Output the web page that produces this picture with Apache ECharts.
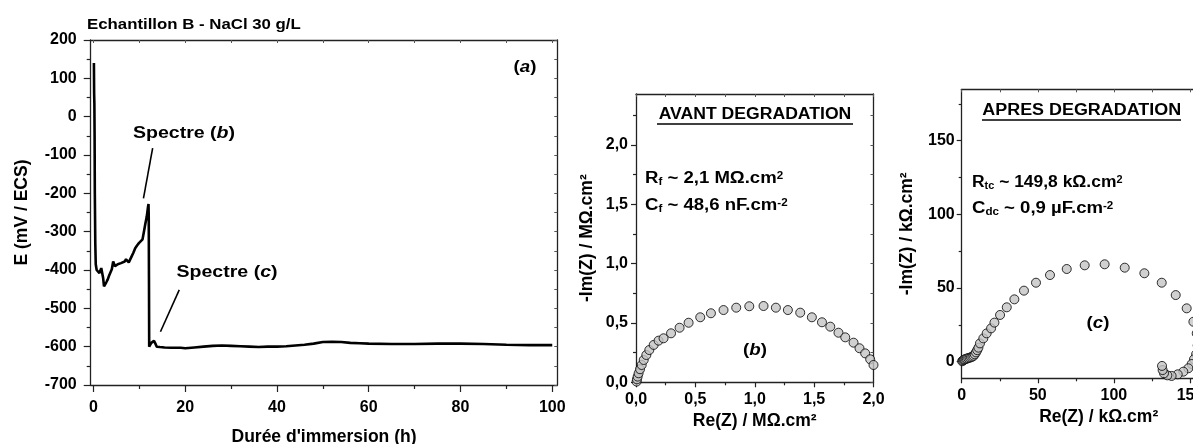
<!DOCTYPE html>
<html><head><meta charset="utf-8">
<script src="https://cdn.jsdelivr.net/npm/echarts@6/dist/echarts.min.js"></script>
<style>html,body{margin:0;padding:0;background:#fff}#c{width:1193px;height:444px}</style>
</head><body><div id="c"></div>
<script>
// ---------- DATA ----------
const timeH = [0.1,0.15,0.2,0.22,0.25,0.3,0.4,0.5,0.7,0.9,1.1,1.3,1.5,1.7,1.9,2.1,2.3,2.5,2.8,3.1,3.4,3.7,4.0,4.3,4.5,4.7,5.0,5.3,5.6,6.0,6.4,6.8,7.1,7.4,7.7,8.0,8.3,8.7,9.1,9.5,9.9,10.3,10.7,11.0,11.3,11.6,11.9,12.0,12.05,12.1,12.15,12.3,12.6,12.9,13.2,13.5,13.8,14.5,15.5,17,19,20,22,24,26,28,30,32,34,36,38,40,42,44,46,48,50,52,54,56,58,60,65,70,75,80,85,90,95,100];
const potentialMV = [140,60,35,30,-50,-200,-330,-385,-400,-405,-398,-408,-403,-395,-392,-420,-443,-440,-432,-425,-415,-410,-398,-378,-373,-390,-392,-385,-387,-382,-380,-378,-372,-370,-380,-375,-365,-355,-343,-336,-330,-327,-320,-300,-280,-262,-235,-228,-260,-420,-600,-598,-590,-585,-585,-592,-600,-601,-602,-603,-603,-604,-602,-600,-598,-597,-598,-599,-600,-601,-600,-600,-599,-597,-595,-592,-588,-587,-588,-590,-591,-592,-593,-593,-592,-592,-593,-595,-596,-596];

const reB = [0.005,0.008,0.014,0.022,0.034,0.048,0.065,0.087,0.112,0.149,0.19,0.232,0.295,0.367,0.443,0.541,0.631,0.737,0.844,0.954,1.074,1.178,1.279,1.383,1.481,1.566,1.636,1.705,1.762,1.832,1.882,1.93,1.972,2.0];
const imB = [0.006,0.025,0.048,0.076,0.11,0.146,0.188,0.23,0.272,0.315,0.351,0.371,0.413,0.46,0.502,0.548,0.582,0.609,0.629,0.641,0.643,0.629,0.609,0.587,0.548,0.506,0.469,0.418,0.379,0.334,0.287,0.244,0.194,0.146];

const reC = [0.3,0.8,1.3,1.9,2.6,3.4,4.3,5.2,6.1,7.0,7.8,8.6,9.4,10.2,11.0,12.0,14.2,16.4,19.3,21.5,25.2,29.6,34.6,40.9,48.8,58.0,69.0,80.8,93.9,107.1,120.0,131.4,140.6,147.8,152.2,154.4,155.0,154.0,152.6,151.1,148.9,145.6,141.9,137.9,135.1,132.9,132.0,131.6];
const imC = [0.3,0.8,1.2,1.5,1.8,2.1,2.4,2.7,3.0,3.4,4.0,5.0,6.3,7.8,9.5,12.4,15.8,19.2,22.6,26.5,31.7,36.9,42.3,48.2,53.6,58.8,62.9,65.4,66.1,63.8,60.0,53.6,45.2,36.2,27.1,19.2,11.0,5.0,1.6,-1.6,-4.5,-6.8,-8.6,-9.7,-9.3,-7.9,-5.7,-2.9];

const ticksAx = [0,20,40,60,80,100];
const minorAx = [10,30,50,70,90];
const ticksAy = [-700,-600,-500,-400,-300,-200,-100,0,100,200];
const minorAy = [-650,-550,-450,-350,-250,-150,-50,50,150];
const ticksB = [0,0.5,1.0,1.5,2.0];
const minorBx = [0.25,0.75,1.25,1.75];
const minorBy = [0.25,0.75,1.25,1.75,2.25];
const ticksCx = [0,50,100,150];
const minorCx = [25,75,125,175];
const ticksCy = [0,50,100,150];
const minorCy = [25,75,125,175];

// ---------- CHART ----------
const FONT = 'Liberation Sans, Arial, sans-serif';
const frameColor = '#222';
const comma = v => v.toFixed(1).replace('.', ',');

const grids = [
  {left: 90.7, top: 40, width: 466.6, height: 345, outerBoundsMode:'none', containLabel:false},
  {left: 636, top: 94, width: 237.5, height: 288.3, outerBoundsMode:'none', containLabel:false},
  {left: 961.7, top: 89.3, width: 274, height: 289, outerBoundsMode:'none', containLabel:false}
];
const ranges = [
  {x:[-0.6,101.1], y:[-700,200]},
  {x:[0,2.0], y:[0,2.43]},
  {x:[0,180], y:[-11.3,184.9]}
];

const xAxes = [], yAxes = [];
function addAxes(gi, cfg) {
  const r = ranges[gi];
  const base = {gridIndex: gi, type: 'value', splitLine:{show:false}, scale:false};
  const lbl = (vals, fmt, margin) => ({show:true, customValues: vals, formatter: fmt, margin: margin,
    color:'#000', fontFamily: FONT, fontWeight:'bold', fontSize: cfg.fs});
  xAxes.push(Object.assign({}, base, {min:r.x[0], max:r.x[1], position:'bottom',
    axisLine:{show:true, onZero:false, lineStyle:{color:frameColor, width:1.3}},
    axisTick:{show:true, inside:false, length:cfg.tickLen, customValues: cfg.xMaj, lineStyle:{color:frameColor, width:1.2}},
    axisLabel: lbl(cfg.xMaj, cfg.xFmt, cfg.xMargin),
    name: cfg.xName, nameLocation:'middle', nameGap: cfg.xGap,
    nameTextStyle:{fontFamily:FONT, fontWeight:'bold', fontSize:cfg.nameFs, color:'#000'}}));
  xAxes.push(Object.assign({}, base, {min:r.x[0], max:r.x[1], position:'bottom',
    axisLine:{show:false, onZero:false},
    axisTick:{show:true, inside:false, length:cfg.minLen, customValues: cfg.xMin, lineStyle:{color:frameColor, width:1.2}},
    axisLabel:{show:false}}));
  xAxes.push(Object.assign({}, base, {min:r.x[0], max:r.x[1], position:'top',
    axisLine:{show:true, onZero:false, lineStyle:{color:frameColor, width:1.3}},
    axisTick:{show:true, inside:true, length:3, customValues: cfg.xMaj.concat(cfg.xMin), lineStyle:{color:'#555', width:1}},
    axisLabel:{show:false}}));
  yAxes.push(Object.assign({}, base, {min:r.y[0], max:r.y[1], position:'left',
    axisLine:{show:true, onZero:false, lineStyle:{color:frameColor, width:1.3}},
    axisTick:{show:true, inside:false, length:cfg.tickLen, customValues: cfg.yMaj, lineStyle:{color:frameColor, width:1.2}},
    axisLabel: lbl(cfg.yMaj, cfg.yFmt, cfg.yMargin),
    name: cfg.yName, nameLocation:'middle', nameGap: cfg.yGap, nameRotate: 90,
    nameTextStyle:{fontFamily:FONT, fontWeight:'bold', fontSize:cfg.nameFs, color:'#000'}}));
  yAxes.push(Object.assign({}, base, {min:r.y[0], max:r.y[1], position:'left',
    axisLine:{show:false, onZero:false},
    axisTick:{show:true, inside:false, length:cfg.minLen, customValues: cfg.yMin, lineStyle:{color:frameColor, width:1.2}},
    axisLabel:{show:false}}));
  yAxes.push(Object.assign({}, base, {min:r.y[0], max:r.y[1], position:'right',
    axisLine:{show:true, onZero:false, lineStyle:{color:frameColor, width:1.3}},
    axisTick:{show:true, inside:true, length:3, customValues: cfg.yMaj.concat(cfg.yMin), lineStyle:{color:'#555', width:1}},
    axisLabel:{show:false}}));
}

addAxes(0, {xMaj:ticksAx, xMin:minorAx, yMaj:ticksAy, yMin:minorAy, xFmt: v => String(v), yFmt: v => String(v),
  fs:16, nameFs:17.5, tickLen:7, minLen:4, xMargin:15, yMargin:14,
  xName:"Durée d'immersion (h)", xGap:43, yName:'E (mV / ECS)', yGap:60});
addAxes(1, {xMaj:ticksB, xMin:minorBx, yMaj:ticksB, yMin:minorBy, xFmt: comma, yFmt: comma,
  fs:16, nameFs:17.5, tickLen:5, minLen:3, xMargin:9, yMargin:8,
  xName:'Re(Z) / MΩ.cm²', xGap:30, yName:'-Im(Z) / MΩ.cm²', yGap:40});
addAxes(2, {xMaj:ticksCx, xMin:minorCx, yMaj:ticksCy, yMin:minorCy, xFmt: v => String(v), yFmt: v => String(v),
  fs:16, nameFs:17.5, tickLen:5, minLen:3, xMargin:9, yMargin:7,
  xName:'Re(Z) / kΩ.cm²', xGap:30, yName:'-Im(Z) / kΩ.cm²', yGap:46});

const seriesA = timeH.map((t, i) => [t, potentialMV[i]]);
const seriesB = reB.map((x, i) => [x, imB[i]]);
const seriesC = reC.map((x, i) => [x, imC[i]]);

const rich = {
  m:{fontFamily:FONT, fontWeight:'bold', fontSize:16, color:'#000'},
  i:{fontFamily:FONT, fontWeight:'bold', fontStyle:'italic', fontSize:16, color:'#000'},
  sub:{fontFamily:FONT, fontWeight:'bold', fontSize:10, color:'#000', verticalAlign:'bottom', lineHeight:10},
  sup:{fontFamily:FONT, fontWeight:'bold', fontSize:10, color:'#000', verticalAlign:'top', lineHeight:10}
};
function txt(x, y, text, align, fs, sx) {
  const r = JSON.parse(JSON.stringify(rich));
  if (fs) { r.m.fontSize = fs; r.i.fontSize = fs; }
  return {type:'text', x:x, y:y, z:100, scaleX: sx || 1.12,
    style:{text:text, rich:r, align:align||'left', verticalAlign:'middle'}};
}
function plain(x, y, text, fs, align, sx) {
  return {type:'text', x:x, y:y, z:100, scaleX: sx || 1.12,
    style:{text:text, fontFamily:FONT, fontWeight:'bold', fontSize:fs, fill:'#000', align:align, verticalAlign:'middle'}};
}

const option = {
  animation:false,
  backgroundColor:'#fff',
  grid: grids,
  xAxis: xAxes,
  yAxis: yAxes,
  series: [
    {type:'line', xAxisIndex:0, yAxisIndex:0, data:seriesA, showSymbol:false, symbol:'none',
     lineStyle:{color:'#000', width:2.6}, clip:true,
     markLine:{silent:true, symbol:['none','arrow'], symbolSize:[0,10], animation:false,
       lineStyle:{color:'#000', width:1.6, type:'solid'}, label:{show:false},
       data:[[{coord:[12.9,-82]},{coord:[10.9,-213]}],[{coord:[18.7,-452]},{coord:[14.6,-561]}]]}},
    {type:'scatter', xAxisIndex:3, yAxisIndex:3, data:seriesB, symbol:'circle', symbolSize:9,
     itemStyle:{color:'#c4c4c4', borderColor:'#000', borderWidth:1}, clip:true},
    {type:'scatter', xAxisIndex:6, yAxisIndex:6, data:seriesC, symbol:'circle', symbolSize:9,
     itemStyle:{color:'#c4c4c4', borderColor:'#000', borderWidth:1}, clip:true}
  ],
  graphic: [
    plain(87, 25, 'Echantillon B - NaCl 30 g/L', 15, 'left', 1.12),
    txt(525, 67, '{m|(}{i|a}{m|)}', 'center', 17, 1.1),
    txt(184, 133, '{m|Spectre (}{i|b}{m|)}', 'center', 17, 1.15),
    txt(227, 272, '{m|Spectre (}{i|c}{m|)}', 'center', 17, 1.15),
    plain(755, 115, 'AVANT DEGRADATION', 16, 'center', 1.1),
    {type:'line', shape:{x1:657, y1:124, x2:853, y2:124}, style:{stroke:'#000', lineWidth:1.5}},
    txt(645, 179, '{m|R}{sub|f}{m| ~ 2,1 MΩ.cm}{sup|2}', 'left', 16, 1.16),
    txt(645, 206, '{m|C}{sub|f}{m| ~ 48,6 nF.cm}{sup|-2}', 'left', 16, 1.16),
    txt(755, 350, '{m|(}{i|b}{m|)}', 'center', 17, 1.1),
    plain(1081.7, 111, 'APRES DEGRADATION', 16, 'center', 1.12),
    {type:'line', shape:{x1:982, y1:120, x2:1181, y2:120}, style:{stroke:'#000', lineWidth:1.5}},
    txt(972, 183, '{m|R}{sub|tc}{m| ~ 149,8 kΩ.cm}{sup|2}', 'left', 16, 1.09),
    txt(972, 209, '{m|C}{sub|dc}{m| ~ 0,9 µF.cm}{sup|-2}', 'left', 16, 1.16),
    txt(1098, 323, '{m|(}{i|c}{m|)}', 'center', 17, 1.1)
  ]
};
const chart = echarts.init(document.getElementById('c'), null, {renderer:'canvas'});
chart.setOption(option);
</script></body></html>
